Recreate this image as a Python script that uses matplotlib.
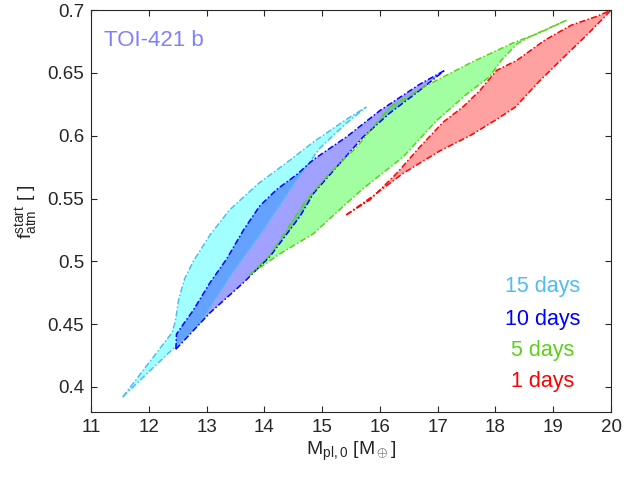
import matplotlib
matplotlib.use('Agg')
import matplotlib.pyplot as plt
import numpy as np
from matplotlib.ticker import FormatStrFormatter

plt.rcParams['font.family'] = ['Liberation Sans', 'DejaVu Sans']
plt.rcParams['mathtext.fontset'] = 'custom'
plt.rcParams['mathtext.rm'] = 'Liberation Sans'
plt.rcParams['mathtext.it'] = 'Liberation Sans'

# границы областей (масса планеты, доля атмосферы)
upper_15 = [(11.55, 0.392), (12.00, 0.419), (12.40, 0.443), (12.46, 0.452), (12.52, 0.470),
            (12.62, 0.486), (12.77, 0.500), (13.06, 0.521), (13.40, 0.541), (13.90, 0.562),
            (14.40, 0.579), (14.85, 0.595), (15.42, 0.613), (15.77, 0.623)]
lower_15 = [(11.55, 0.392), (12.00, 0.412), (12.46, 0.432), (12.89, 0.451), (13.40, 0.488),
            (13.98, 0.525), (14.56, 0.565), (14.96, 0.590), (15.42, 0.610), (15.77, 0.623)]

upper_10 = [(12.47, 0.430), (12.48, 0.442), (12.60, 0.450), (12.77, 0.461), (13.06, 0.483),
            (13.35, 0.502), (13.64, 0.525), (13.92, 0.544), (14.21, 0.557), (14.56, 0.569),
            (14.85, 0.581), (15.42, 0.599), (16.00, 0.620), (16.69, 0.641), (17.12, 0.652)]
lower_10 = [(12.47, 0.430), (13.06, 0.459), (13.64, 0.483), (14.10, 0.504), (14.62, 0.536),
            (14.85, 0.554), (15.25, 0.575), (15.71, 0.599), (16.17, 0.618), (16.63, 0.634),
            (17.12, 0.652)]

upper_5 = [(13.74, 0.489), (14.10, 0.505), (14.27, 0.517), (14.73, 0.549), (15.13, 0.570),
           (15.60, 0.591), (16.17, 0.623), (16.81, 0.640), (17.61, 0.659), (18.31, 0.674),
           (18.77, 0.682), (19.23, 0.692)]
lower_5 = [(13.74, 0.489), (14.27, 0.506), (14.85, 0.522), (15.42, 0.546), (15.71, 0.558),
           (16.40, 0.583), (16.98, 0.612), (17.50, 0.633), (17.90, 0.647), (18.10, 0.660),
           (18.37, 0.673), (18.60, 0.679), (19.23, 0.692)]

upper_1 = [(15.42, 0.537), (15.83, 0.549), (16.29, 0.570), (16.69, 0.591), (17.10, 0.611),
           (17.44, 0.623), (17.73, 0.636), (18.02, 0.652), (18.37, 0.660), (18.85, 0.676),
           (19.31, 0.688), (19.75, 0.695), (20.00, 0.700)]
lower_1 = [(15.42, 0.537), (15.88, 0.552), (16.40, 0.570), (17.04, 0.588), (17.56, 0.600),
           (18.02, 0.613), (18.35, 0.623), (18.75, 0.643), (19.17, 0.662), (19.60, 0.681),
           (20.00, 0.700)]

labels = ['15 days', '10 days', '5 days', '1 days']
label_y = [0.480, 0.454, 0.429, 0.404]
edge_colors = ['#4dbeee', '#0000ff', '#5fcf1a', '#ff0000']
fill_colors = ['#00ffff', '#0000ff', '#00ff00', '#ff0000']
regions = [(upper_15, lower_15), (upper_10, lower_10), (upper_5, lower_5), (upper_1, lower_1)]


def draw_region(ax, upper, lower, edge, face):
    up = np.array(upper)
    lo = np.array(lower)
    xs = np.concatenate([up[:, 0], lo[::-1, 0]])
    ys = np.concatenate([up[:, 1], lo[::-1, 1]])
    ax.fill(xs, ys, color=face, alpha=0.37, lw=0)
    ax.plot(up[:, 0], up[:, 1], color=edge, lw=1.1, ls=(0, (4, 1.5, 1, 1.5)))
    ax.plot(lo[:, 0], lo[:, 1], color=edge, lw=1.1, ls=(0, (4, 1.5, 1, 1.5)))


fig = plt.figure(figsize=(6.27, 4.83), dpi=100)
ax = fig.add_axes([0.1451, 0.147, 0.8294, 0.832])

for (up, lo), ec, fc in zip(regions, edge_colors, fill_colors):
    draw_region(ax, up, lo, ec, fc)

for lab, yy, ec in zip(labels, label_y, edge_colors):
    ax.text(18.82, yy, lab, color=ec, fontsize=15.5, ha='center', va='center')

ax.text(11.22, 0.676, 'TOI-421 b', color='#8080ff', fontsize=16, ha='left', va='center')

ax.set_xlim(11, 20)
ax.set_ylim(0.38, 0.7)
ax.set_xticks(np.arange(11, 21, 1))
ax.set_yticks(np.arange(0.4, 0.7001, 0.05))
ax.yaxis.set_major_formatter(FormatStrFormatter('%g'))
ax.tick_params(direction='in', top=True, right=True, length=4, width=0.8,
               labelsize=13.5, colors='#262626', pad=5)
for sp in ax.spines.values():
    sp.set_color('#262626')
    sp.set_linewidth(0.8)

ax.set_xlabel(r'M$_{\mathrm{pl,0}}$ [M$_\oplus$]', fontsize=14, color='#262626', labelpad=3)
ax.set_ylabel(r'f$_{\mathrm{atm}}^{\mathrm{start}}$ [ ]', fontsize=14, color='#262626')
ax.yaxis.set_label_coords(-0.098, 0.5)

fig.savefig('out.png', dpi=100)
